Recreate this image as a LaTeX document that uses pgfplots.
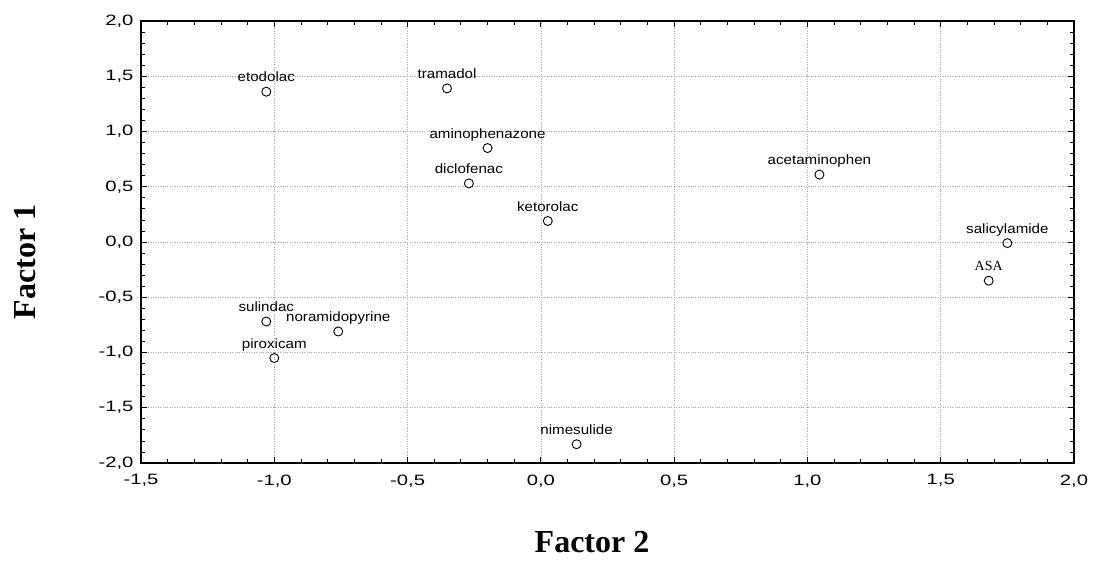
\documentclass[border=0pt]{standalone}
\usepackage{fontspec}
\usepackage{pgfplots}
\pgfplotsset{compat=1.18}
\setmainfont{Liberation Sans}
\newfontfamily\tickfont[FakeStretch=1.35]{Liberation Sans}
\newfontfamily\ptfont[FakeStretch=1.12]{Liberation Sans}
\newfontfamily\seriffont{Liberation Serif}

\begin{document}
\begin{tikzpicture}
\useasboundingbox (-141pt,-111pt) rectangle (956pt,463pt);
\begin{axis}[
    at={(0,0)}, anchor=south west,
    scale only axis,
    width=933pt, height=442pt,
    xmin=-1.5, xmax=2.0,
    ymin=-2.0, ymax=2.0,
    xtick={-1.5,-1,-0.5,0,0.5,1,1.5,2},
    ytick={-2,-1.5,-1,-0.5,0,0.5,1,1.5,2},
    minor tick num=4,
    tick align=inside,
    major tick length=6pt,
    minor tick length=4pt,
    tick style={black, line width=0.8pt},
    axis line style={black, line width=1.6pt},
    grid=major,
    major grid style={gray!70, dotted, line width=0.7pt},
    /pgf/number format/.cd, use comma, fixed, fixed zerofill, precision=1, assume math mode=true,
    /pgfplots/.cd,
    tick label style={font=\tickfont\fontsize{15}{15}\selectfont},
    xticklabel style={yshift=-8pt},
    yticklabel style={xshift=-4pt},
    xlabel={Factor 2},
    ylabel={Factor 1},
    xlabel style={at={(axis description cs:0.4834,-0.2014)}, anchor=base,
        font=\seriffont\bfseries\fontsize{32}{32}\selectfont},
    ylabel style={at={(axis description cs:-0.1136,0.455)}, anchor=base,
        font=\seriffont\bfseries\fontsize{32}{32}\selectfont},
]
\addplot[only marks, mark=o, mark size=4.5pt, black, mark options={line width=0.9pt},
    point meta=explicit symbolic,
    nodes near coords,
    every node near coord/.append style={anchor=base, yshift=10pt, inner sep=0pt,
        font=\ptfont\fontsize{13.5}{13.5}\selectfont}]
coordinates {
    (-1.03, 1.36)  [etodolac]
    (-0.352, 1.39) [tramadol]
    (-0.20, 0.85)  [aminophenazone]
    (-0.27, 0.53)  [diclofenac]
    (0.026, 0.19)  [ketorolac]
    (1.045, 0.61)  [acetaminophen]
    (1.75, -0.01)  [salicylamide]
    (1.68, -0.35)  [{\seriffont\fontsize{14}{14}\selectfont ASA}]
    (-1.03, -0.72) [sulindac]
    (-0.76, -0.81) [noramidopyrine]
    (-1.00, -1.05) [piroxicam]
    (0.134, -1.83) [nimesulide]
};
\end{axis}
\end{tikzpicture}
\end{document}
